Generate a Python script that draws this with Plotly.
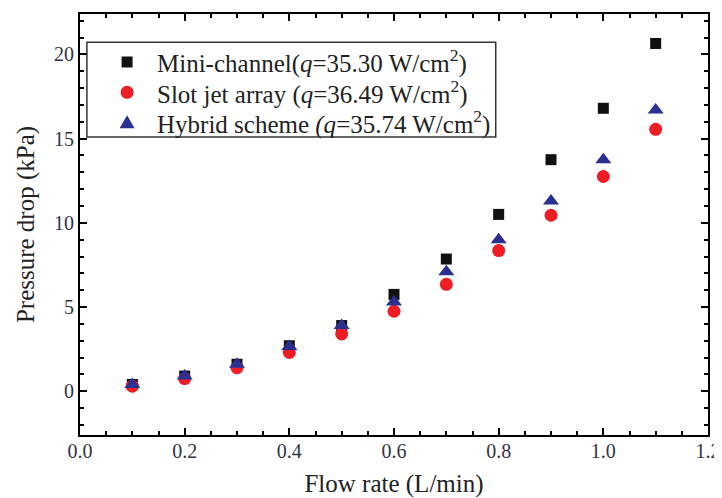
import plotly.graph_objects as go

flow = [0.1, 0.2, 0.3, 0.4, 0.5, 0.6, 0.7, 0.8, 0.9, 1.0, 1.1]
mini_channel = [0.4, 0.9, 1.6, 2.7, 3.9, 5.75, 7.85, 10.5, 13.75, 16.8, 20.65]
slot_jet = [0.3, 0.75, 1.4, 2.3, 3.4, 4.75, 6.35, 8.35, 10.45, 12.75, 15.55]
hybrid = [0.4, 0.9, 1.6, 2.65, 3.9, 5.3, 7.1, 9.0, 11.3, 13.75, 16.7]

names = ["Mini-channel(<i>q</i>=35.30 W/cm<sup>2</sup>)",
         "Slot jet array (<i>q</i>=36.49 W/cm<sup>2</sup>)",
         "Hybrid scheme <i>(q</i>=35.74 W/cm<sup>2</sup>)"]
colors = ["#111111", "#ee1c25", "#2b3090"]

font = "Liberation Serif, Times New Roman, serif"

fig = go.Figure()
fig.add_trace(go.Scatter(x=flow, y=mini_channel, mode="markers", name=names[0],
                         marker=dict(symbol="square", size=11, color=colors[0])))
fig.add_trace(go.Scatter(x=flow, y=slot_jet, mode="markers", name=names[1],
                         marker=dict(symbol="circle", size=13, color=colors[1])))
fig.add_trace(go.Scatter(x=flow, y=hybrid, mode="markers", name=names[2],
                         marker=dict(symbol="triangle-up", size=14, color=colors[2])))

axis_style = dict(showline=True, linewidth=2, linecolor="black", mirror="allticks",
                  ticks="inside", ticklen=7, tickwidth=2, tickcolor="black",
                  showgrid=False, zeroline=False, automargin=False,
                  ticklabeloverflow="allow",
                  tickfont=dict(family=font, size=20, color="#333344"),
                  minor=dict(ticks="inside", ticklen=4, tickwidth=2, tickcolor="black"))

fig.update_xaxes(range=[0, 1.2], dtick=0.2, tickformat=".1f", ticklabelstandoff=-3,
                 title=dict(text="Flow rate (L/min)", font=dict(family=font, size=25, color="#222222"), standoff=14),
                 **axis_style)
fig.update_yaxes(range=[-2.6, 22.4], tick0=0, dtick=5,
                 title=dict(text="Pressure drop (kPa)", font=dict(family=font, size=25, color="#222222"), standoff=12),
                 **axis_style)

# hand-drawn legend box so the row spacing can be kept tight like the original
fig.add_shape(type="rect", xref="paper", yref="paper", x0=0.011, x1=0.662, y0=0.708, y1=0.933,
              line=dict(color="#333333", width=1.5), fillcolor="white", layer="above")
rows_y = [0.886, 0.814, 0.743]
sym_x = 0.075
fig.add_shape(type="rect", xref="paper", yref="paper", xsizemode="pixel", ysizemode="pixel",
              xanchor=sym_x, yanchor=rows_y[0], x0=-5.5, x1=5.5, y0=-5.5, y1=5.5,
              fillcolor=colors[0], line=dict(width=0), layer="above")
fig.add_shape(type="circle", xref="paper", yref="paper", xsizemode="pixel", ysizemode="pixel",
              xanchor=sym_x, yanchor=rows_y[1], x0=-6.5, x1=6.5, y0=-6.5, y1=6.5,
              fillcolor=colors[1], line=dict(width=0), layer="above")
fig.add_shape(type="path", xref="paper", yref="paper", xsizemode="pixel", ysizemode="pixel",
              xanchor=sym_x, yanchor=rows_y[2], path="M-7.5,-6 L7.5,-6 L0,7 Z",
              fillcolor=colors[2], line=dict(width=0), layer="above")
for name, yy in zip(names, rows_y):
    fig.add_annotation(text=name, xref="paper", yref="paper", x=0.12, y=yy,
                       xanchor="left", yanchor="middle", showarrow=False,
                       font=dict(family=font, size=25, color="#222222"))

# body has an 8px margin in the page, so shrink the figure by that much
fig.update_layout(
    width=714, height=490,
    margin=dict(l=72, r=14, t=6, b=63),
    plot_bgcolor="white", paper_bgcolor="white",
    font=dict(family=font, color="#222222"),
    showlegend=False,
)

fig.write_html("out.html")
